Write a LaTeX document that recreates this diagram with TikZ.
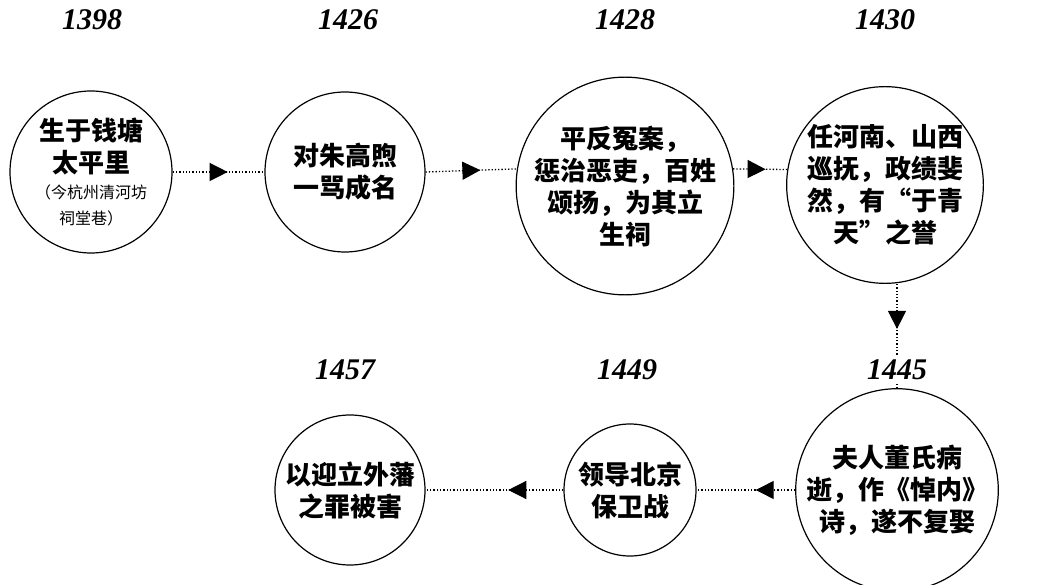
\documentclass[tikz,border=0pt]{standalone}
\usepackage{fontspec}
\setmainfont{Liberation Serif}
\newfontfamily\cjk{Noto Sans CJK SC}
\usetikzlibrary{arrows.meta,decorations.markings}
\tikzset{
ev/.style={circle,draw,line width=1.2pt,inner sep=0pt,align=center,font=\cjk\bfseries\fontsize{26}{32}\selectfont},
yr/.style={font=\bfseries\itshape\fontsize{30}{32}\selectfont},
con/.style={dotted,line width=1.3pt,postaction={decorate},decoration={markings,mark=at position #1 with {\arrow{Triangle[length=18pt,width=18pt]}}}},
}
\begin{document}
\begin{tikzpicture}[x=1pt,y=-1pt]
\useasboundingbox (0,0) rectangle (1038,585);
\node[yr] (y1) at (92,20) {1398};
\node[yr] (y2) at (348,20) {1426};
\node[yr] (y3) at (625,20) {1428};
\node[yr] (y4) at (885,20) {1430};
\node[yr] (y5) at (345,370) {1457};
\node[yr] (y6) at (627,370) {1449};
\node[yr] (y7) at (897,370) {1445};
\node[ev,minimum size=162pt] (c1) at (91,172) {生于钱塘\\太平里\\[-6pt]\mdseries\fontsize{16}{22}\selectfont（今杭州清河坊\\[-6pt]\mdseries\fontsize{16}{22}\selectfont 祠堂巷）};
\node[ev,minimum size=160pt] (c2) at (345,172) {对朱高煦\\一骂成名};
\node[ev,minimum size=184pt] (c3) at (625,186) {平反冤案，\\惩治恶吏，百姓\\颂扬，为其立\\生祠};
\node[ev,minimum size=160pt] (c4) at (885,185) {任河南、山西\\巡抚，政绩斐\\然，有“于青\\天”之誉};
\node[ev,minimum size=180pt] (c5) at (897,490) {夫人董氏病\\逝，作《悼内》\\诗，遂不复娶};
\node[ev,minimum size=132pt] (c6) at (630,490) {领导北京\\保卫战};
\node[ev,minimum size=150pt] (c7) at (350,490) {以迎立外藩\\之罪被害};
\draw[con=0.6] (c1.east) -- (c2.west);
\draw[con=0.6] (c2.east) -- (c3.171);
\draw[con=0.6] (c3.9) -- (c4.171);
\draw[con=0.62] (c4.south -| y7.north) -- (y7.north);
\draw[dotted,line width=1.3pt] (y7.south) -- (c5.north);
\draw[con=0.4] (c5.west) -- (c6.east);
\draw[con=0.4] (c6.west) -- (c7.east);
\end{tikzpicture}
\end{document}
